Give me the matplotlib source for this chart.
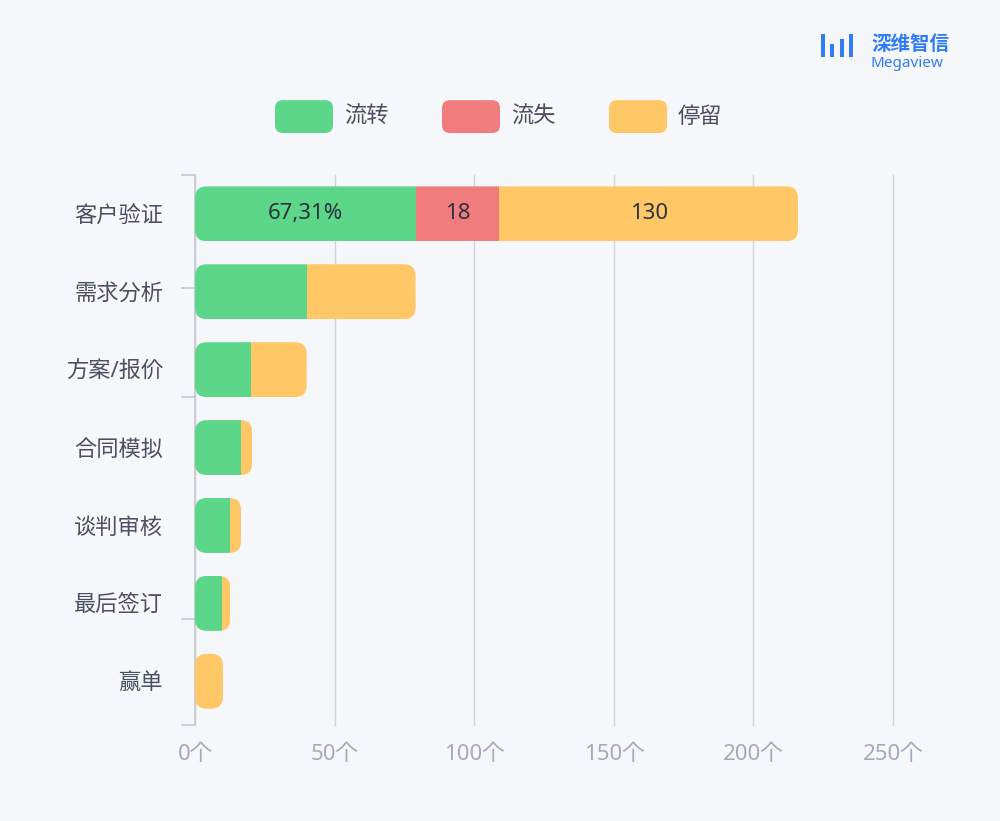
import matplotlib
matplotlib.use("Agg")
import matplotlib.pyplot as plt
from matplotlib.patches import FancyBboxPatch, Rectangle

plt.rcParams["font.family"] = ["Noto Sans", "Noto Sans CJK SC", "Noto Sans CJK JP",
                               "DejaVu Sans"]

stages = ["客户验证", "需求分析", "方案/报价", "合同模拟", "谈判审核", "最后签订", "赢单"]
flow = [79, 40, 20, 16.5, 12.5, 9.7, 0]
lost = [30, 0, 0, 0, 0, 0, 0]
stay = [107, 39, 20, 4, 4, 3, 10]
first_labels = ["67,31%", "18", "130"]
xticks = [0, 50, 100, 150, 200, 250]

GREEN, RED, YELLOW = "#5cd78a", "#f07c7e", "#ffc766"
BG = "#f5f7fa"

fig = plt.figure(figsize=(10, 8.21), dpi=100, facecolor=BG)
ax = fig.add_axes([0.195, 0.117, 0.698, 0.670], facecolor=BG)
ax.set_xlim(0, 250)
ax.set_ylim(6.56, -0.5)

h = 0.705
r = 4.3
asp = 0.036
for i in range(len(stages)):
    total = flow[i] + lost[i] + stay[i]
    clip = FancyBboxPatch((0, i - h / 2), total, h,
                          boxstyle=f"round,pad=0,rounding_size={r}",
                          mutation_aspect=asp, fc="none", ec="none")
    ax.add_patch(clip)
    left = 0
    for v, c in ((flow[i], GREEN), (lost[i], RED), (stay[i], YELLOW)):
        if v > 0:
            rect = Rectangle((left, i - h / 2), v, h, fc=c, ec="none", zorder=3)
            ax.add_patch(rect)
            rect.set_clip_path(clip)
        left += v

# labels on the first bar
segs = [flow[0], lost[0], stay[0]]
left = 0
for v, lab in zip(segs, first_labels):
    ax.text(left + v / 2, 0, lab, ha="center", va="center", fontsize=16,
            color="#2d3340", zorder=4)
    left += v

ax.set_xticks(xticks)
ax.set_xticklabels([f"{t}个" for t in xticks], fontsize=16, color="#a3abba")
ax.xaxis.grid(True, color="#cfd3da", lw=1)
for gl in ax.get_xgridlines():
    gl.set_clip_on(False)
ax.set_axisbelow(True)
ax.set_yticks(range(len(stages)))
ax.set_yticklabels(stages, fontsize=16, color="#4a5060")
ax.tick_params(axis="x", length=0, pad=14)
ax.tick_params(axis="y", length=0, pad=23)
ax.set_yticks([-0.5, 0.95, 2.35, 5.2, 6.56], minor=True)
ax.tick_params(axis="y", which="minor", length=10, color="#c4c9d2", width=1.2)
for s in ("top", "right", "bottom"):
    ax.spines[s].set_visible(False)
ax.spines["left"].set_color("#c4c9d2")
ax.spines["left"].set_linewidth(1.2)

# legend
for x0, lab, c in ((0.275, "流转", GREEN), (0.442, "流失", RED), (0.609, "停留", YELLOW)):
    fig.patches.append(FancyBboxPatch((x0, 0.838), 0.058, 0.04,
                       boxstyle="round,pad=0,rounding_size=0.008",
                       transform=fig.transFigure, fc=c, ec="none",
                       mutation_aspect=1.2))
    fig.text(x0 + 0.069, 0.857, lab, fontsize=16, color="#4a5060", va="center")

# logo
BLUE = "#2f7cf6"
for k, hh in enumerate([0.028, 0.016, 0.022, 0.028]):
    fig.patches.append(Rectangle((0.821 + k * 0.0095, 0.93), 0.0035, hh,
                       transform=fig.transFigure, fc=BLUE, ec="none"))
fig.text(0.871, 0.945, "深维智信", fontsize=14, color=BLUE, fontweight="bold", va="center")
fig.text(0.871, 0.923, "Megaview", fontsize=11, color=BLUE, va="center")

fig.savefig("out.png", dpi=100, facecolor=BG)
